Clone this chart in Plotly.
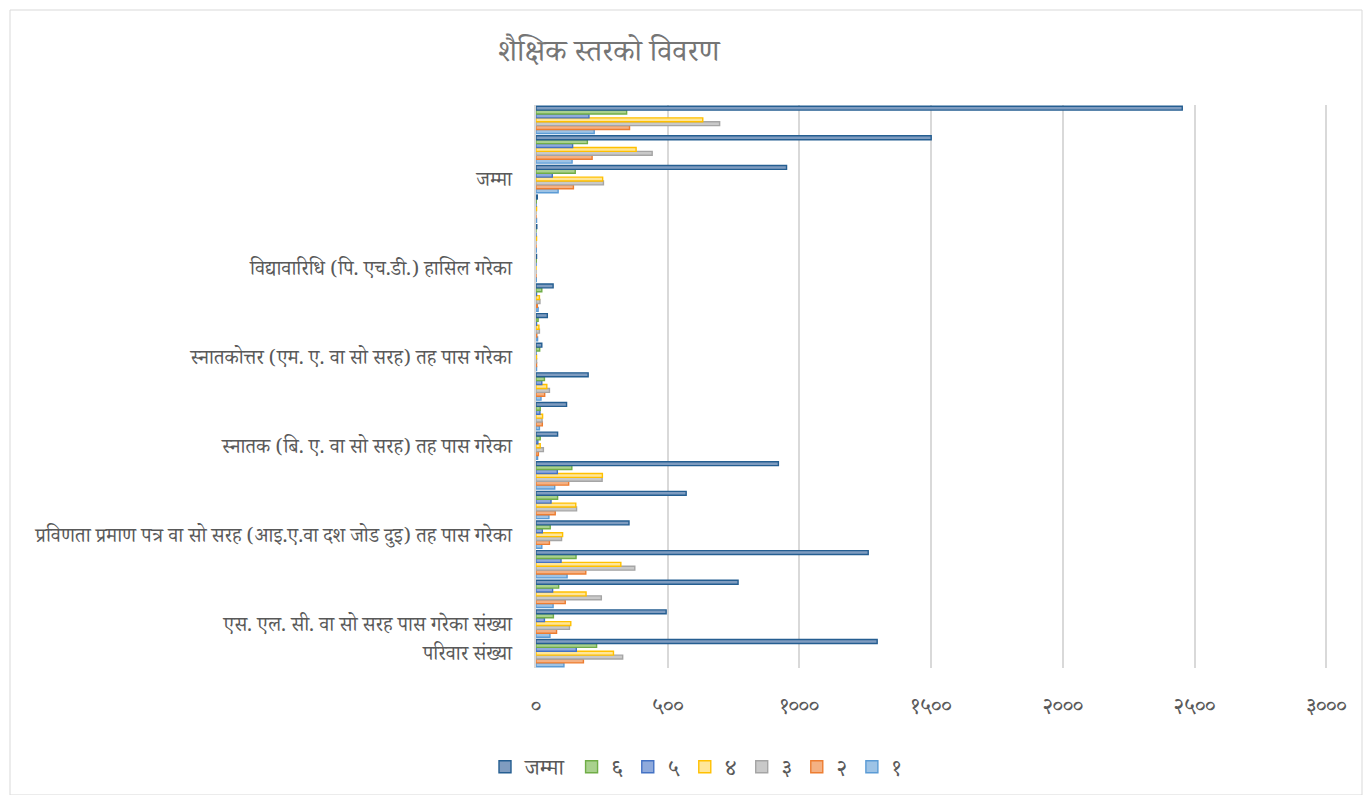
import plotly.graph_objects as go

# Category labels, bottom to top (blank rows belong to the group above them)
categories = [
    "परिवार संख्या",
    "एस. एल. सी. वा सो सरह पास गरेका संख्या", "", "",
    "प्रविणता प्रमाण पत्र वा सो सरह (आइ.ए.वा दश जोड दुइ) तह पास गरेका", "", "",
    "स्नातक (बि. ए. वा सो सरह) तह पास गरेका", "", "",
    "स्नातकोत्तर (एम. ए. वा सो सरह) तह पास गरेका", "", "",
    "विद्यावारिधि (पि. एच.डी.) हासिल गरेका", "", "",
    "जम्मा", "", "",
]

s1 = [106, 53, 65, 118, 22, 49, 71, 6, 13, 19, 2, 6, 8, 1, 1, 2, 84, 137, 221]
s2 = [180, 78, 111, 189, 51, 73, 124, 9, 24, 33, 2, 3, 5, 0, 0, 0, 142, 213, 355]
s3 = [329, 127, 248, 375, 97, 154, 251, 28, 23, 51, 2, 13, 15, 0, 0, 0, 256, 441, 697]
s4 = [294, 132, 190, 322, 101, 151, 252, 16, 25, 41, 2, 11, 13, 0, 2, 2, 253, 380, 633]
s5 = [153, 32, 63, 95, 24, 57, 81, 7, 15, 22, 0, 2, 2, 0, 0, 0, 62, 139, 201]
s6 = [230, 66, 86, 152, 54, 82, 136, 16, 16, 32, 14, 8, 22, 1, 0, 1, 149, 195, 344]
total = [1295, 494, 767, 1261, 353, 570, 920, 82, 116, 198, 22, 43, 65, 2, 3, 5, 951, 1500, 2453]

series_names = ["१", "२", "३", "४", "५", "६", "जम्मा"]
series_values = [s1, s2, s3, s4, s5, s6, total]
fill_colors = ["#9DC3E6", "#F4B183", "#C9C9C9", "#FFE699", "#8FAADC", "#A9D18E", "#7F9CC0"]
line_colors = ["#5B9BD5", "#ED7D31", "#A5A5A5", "#FFC000", "#4472C4", "#70AD47", "#255E91"]

x_tickvals = [0, 500, 1000, 1500, 2000, 2500, 3000]
x_ticktext = ["०", "५००", "१०००", "१५००", "२०००", "२५००", "३०००"]

DEV_FONT = "Noto Serif Devanagari, Noto Sans Devanagari, Lohit Devanagari, serif"

ypos = list(range(len(categories)))

fig = go.Figure()
for name, vals, fc, lc in zip(series_names, series_values, fill_colors, line_colors):
    fig.add_trace(go.Bar(
        y=ypos, x=vals, name=name, orientation="h",
        marker=dict(color=fc, line=dict(color=lc, width=1.4)),
    ))

label_idx = [i for i, c in enumerate(categories) if c]

# page has an 8px body margin; layout numbers below compensate for it
L, T, W, H = 528, 97, 793, 563
fig.update_layout(
    width=1371, height=795,
    margin=dict(l=L, r=1371 - L - W, t=T, b=795 - T - H),
    paper_bgcolor="white", plot_bgcolor="white",
    barmode="group", bargap=0.08, bargroupgap=0,
    font=dict(family=DEV_FONT, color="#595959"),
    title=dict(text="शैक्षिक स्तरको विवरण", font=dict(size=30, color="#757575", family=DEV_FONT),
               xref="container", x=490/1371, xanchor="left",
               yref="container", y=1-42/795, yanchor="middle"),
    legend=dict(orientation="h", traceorder="reversed",
                xref="container", x=688/1371, xanchor="center",
                yref="container", y=1-759/795, yanchor="middle",
                font=dict(size=22, color="#595959", family=DEV_FONT),
                itemwidth=30),
    xaxis=dict(range=[0, 3010], tickvals=x_tickvals, ticktext=x_ticktext,
               showgrid=True, gridcolor="#D9D9D9", gridwidth=2,
               zeroline=False, showline=False,
               tickfont=dict(size=22, color="#595959"),
               ticklabelstandoff=22),
    yaxis=dict(range=[-0.5, len(categories) - 0.5],
               tickvals=label_idx, ticktext=[categories[i] for i in label_idx],
               showgrid=False, zeroline=False,
               showline=True, linecolor="#D9D9D9", linewidth=2,
               tickfont=dict(size=20, color="#595959"),
               ticklabelstandoff=18),
    shapes=[dict(type="rect", xref="paper", yref="paper",
                 x0=(2 - L)/W, x1=(1354 - L)/W,
                 y0=(T + H - 787)/H, y1=(T + H - 2)/H,
                 line=dict(color="#D9D9D9", width=1), fillcolor="rgba(0,0,0,0)",
                 layer="below")],
)

fig.write_html("out.html")
